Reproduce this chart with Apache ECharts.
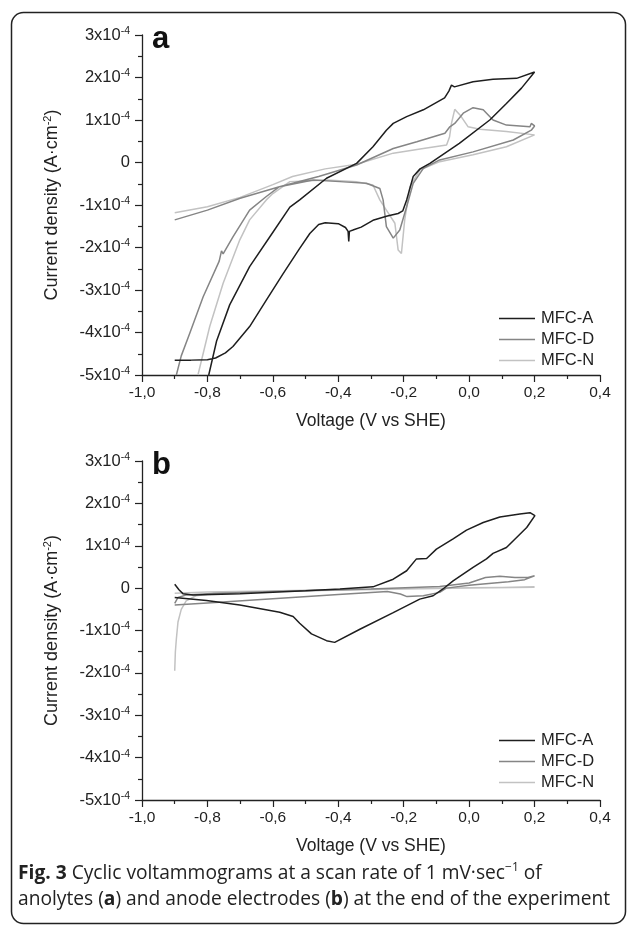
<!DOCTYPE html>
<html>
<head>
<meta charset="utf-8">
<script src="https://cdn.jsdelivr.net/npm/echarts@6/dist/echarts.min.js"></script>
<style>
html,body{margin:0;padding:0;background:#fff;}
#chart{width:637px;height:929px;}
</style>
</head>
<body>
<div id="chart"></div>
<script>
// values in units of 1e-4 A·cm^-2, voltage in V vs SHE
const seriesNames = ['MFC-A', 'MFC-D', 'MFC-N'];
const seriesColors = ['#1e1e1e', '#858585', '#c2c2c2'];
const yTicks = [-5, -4, -3, -2, -1, 0, 1, 2, 3];
const xTicks = [-1.0, -0.8, -0.6, -0.4, -0.2, 0.0, 0.2, 0.4];

const aMFCA = [[-0.90,-4.65],[-0.85,-4.65],[-0.80,-4.64],[-0.775,-4.6],[-0.745,-4.48],[-0.722,-4.33],[-0.671,-3.86],[-0.62,-3.24],[-0.569,-2.62],[-0.518,-2.02],[-0.487,-1.67],[-0.46,-1.46],[-0.44,-1.42],[-0.40,-1.44],[-0.378,-1.53],[-0.37,-1.62],[-0.368,-1.86],[-0.366,-1.62],[-0.355,-1.59],[-0.33,-1.52],[-0.294,-1.36],[-0.25,-1.26],[-0.217,-1.2],[-0.203,-1.14],[-0.191,-0.88],[-0.171,-0.33],[-0.15,-0.15],[-0.12,-0.02],[-0.03,0.45],[0.063,1.0],[0.114,1.39],[0.16,1.75],[0.2,2.13],[0.145,1.98],[0.073,1.96],[0.012,1.9],[-0.045,1.78],[-0.054,1.82],[-0.062,1.68],[-0.075,1.52],[-0.14,1.24],[-0.191,1.08],[-0.232,0.92],[-0.253,0.76],[-0.294,0.37],[-0.344,-0.02],[-0.436,-0.37],[-0.518,-0.88],[-0.548,-1.05],[-0.605,-1.7],[-0.671,-2.45],[-0.732,-3.35],[-0.772,-4.2],[-0.796,-5.0]];
const aMFCD = [[-0.90,-1.35],[-0.80,-1.12],[-0.70,-0.84],[-0.58,-0.57],[-0.46,-0.33],[-0.344,-0.06],[-0.232,0.33],[-0.16,0.49],[-0.074,0.69],[-0.059,0.84],[-0.044,0.92],[-0.018,1.16],[0.012,1.29],[0.043,1.24],[0.073,1.0],[0.114,0.88],[0.186,0.84],[0.19,0.92],[0.2,0.86],[0.19,0.76],[0.135,0.53],[0.012,0.25],[-0.09,0.06],[-0.14,-0.14],[-0.171,-0.49],[-0.191,-1.04],[-0.212,-1.59],[-0.232,-1.78],[-0.253,-1.51],[-0.263,-0.88],[-0.273,-0.61],[-0.314,-0.49],[-0.395,-0.45],[-0.477,-0.41],[-0.58,-0.57],[-0.62,-0.8],[-0.671,-1.12],[-0.722,-1.75],[-0.752,-2.15],[-0.757,-2.08],[-0.764,-2.32],[-0.813,-3.16],[-0.854,-4.02],[-0.88,-4.55],[-0.895,-5.0]];
const aMFCN = [[-0.90,-1.18],[-0.80,-1.04],[-0.70,-0.82],[-0.60,-0.52],[-0.54,-0.33],[-0.44,-0.15],[-0.344,-0.04],[-0.232,0.22],[-0.14,0.33],[-0.069,0.41],[-0.06,0.6],[-0.054,0.92],[-0.044,1.25],[-0.028,1.12],[-0.003,0.84],[0.033,0.78],[0.114,0.73],[0.2,0.65],[0.114,0.37],[0.012,0.18],[-0.09,0.02],[-0.151,-0.18],[-0.181,-0.57],[-0.197,-1.35],[-0.207,-2.14],[-0.217,-2.06],[-0.227,-1.43],[-0.253,-1.12],[-0.273,-0.88],[-0.294,-0.53],[-0.344,-0.45],[-0.436,-0.41],[-0.548,-0.45],[-0.6,-0.73],[-0.62,-0.88],[-0.671,-1.35],[-0.701,-1.82],[-0.752,-2.84],[-0.793,-3.86],[-0.829,-5.0]];

const bMFCA = [[-0.90,0.09],[-0.887,-0.04],[-0.875,-0.13],[-0.844,-0.16],[-0.70,-0.13],[-0.50,-0.06],[-0.395,-0.02],[-0.294,0.03],[-0.232,0.21],[-0.191,0.41],[-0.161,0.69],[-0.13,0.70],[-0.10,0.92],[-0.049,1.16],[-0.008,1.37],[0.043,1.55],[0.094,1.68],[0.155,1.75],[0.186,1.78],[0.201,1.71],[0.176,1.43],[0.114,0.96],[0.073,0.82],[0.053,0.69],[0.012,0.49],[-0.049,0.17],[-0.08,-0.02],[-0.11,-0.18],[-0.151,-0.26],[-0.232,-0.58],[-0.334,-0.97],[-0.411,-1.28],[-0.436,-1.24],[-0.482,-1.08],[-0.518,-0.83],[-0.538,-0.67],[-0.579,-0.57],[-0.701,-0.40],[-0.803,-0.29],[-0.90,-0.22]];
const bMFCD = [[-0.90,-0.40],[-0.80,-0.35],[-0.60,-0.25],[-0.40,-0.15],[-0.25,-0.08],[-0.21,-0.14],[-0.19,-0.20],[-0.14,-0.18],[-0.09,-0.10],[-0.07,0.0],[0.0,0.07],[0.06,0.11],[0.12,0.15],[0.17,0.2],[0.20,0.29],[0.18,0.25],[0.14,0.25],[0.094,0.28],[0.05,0.25],[0.0,0.12],[-0.09,0.04],[-0.30,-0.02],[-0.60,-0.08],[-0.80,-0.13],[-0.864,-0.16],[-0.89,-0.22],[-0.90,-0.36]];
const bMFCN = [[-0.90,-1.95],[-0.898,-1.5],[-0.895,-1.2],[-0.89,-0.8],[-0.88,-0.5],[-0.865,-0.3],[-0.835,-0.18],[-0.75,-0.10],[-0.50,-0.06],[-0.20,-0.02],[0.0,0.0],[0.20,0.02],[0.0,0.01],[-0.40,-0.04],[-0.80,-0.09],[-0.90,-0.12]];

const panelA = [aMFCA, aMFCD, aMFCN];
const panelB = [bMFCA, bMFCD, bMFCN];

const FONT = 'Liberation Sans';
const axisColor = '#222';

function yLabel(v) {
  if (Math.abs(v) < 1e-9) return '{m|0}';
  return '{m|' + v + 'x10}{s|-4}';
}
function xLabel(v) {
  return v.toFixed(1).replace('.', ',');
}
const labelRich = {
  m: { fontSize: 16.5, fontFamily: FONT, color: '#222', lineHeight: 19 },
  s: { fontSize: 10.5, fontFamily: FONT, color: '#222', verticalAlign: 'top', lineHeight: 10 }
};

function makeX(gridIndex) {
  return {
    type: 'value', gridIndex: gridIndex,
    min: xTicks[0], max: xTicks[xTicks.length - 1], interval: 0.2,
    name: 'Voltage (V vs SHE)', nameLocation: 'middle', nameGap: 37,
    nameTextStyle: { fontSize: 17.5, fontFamily: FONT, color: '#222' },
    axisLine: { show: true, onZero: false, lineStyle: { color: axisColor, width: 1.3 } },
    axisTick: { show: true, inside: false, length: 7, lineStyle: { color: axisColor, width: 1.2 } },
    minorTick: { show: true, splitNumber: 2, length: 4, lineStyle: { color: axisColor, width: 1.2 } },
    splitLine: { show: false },
    axisLabel: { margin: 10, fontSize: 15.5, fontFamily: FONT, color: '#222', formatter: xLabel }
  };
}
function makeY(gridIndex) {
  return {
    type: 'value', gridIndex: gridIndex,
    min: yTicks[0], max: yTicks[yTicks.length - 1], interval: 1,
    name: '{t|Current density (A·cm}{s|-2}{t|)}', nameLocation: 'middle', nameGap: 80, nameRotate: 90,
    nameTextStyle: {
      rich: {
        t: { fontSize: 18, fontFamily: FONT, color: '#222', lineHeight: 20 },
        s: { fontSize: 11, fontFamily: FONT, color: '#222', verticalAlign: 'top', lineHeight: 11 }
      }
    },
    axisLine: { show: true, onZero: false, lineStyle: { color: axisColor, width: 1.3 } },
    axisTick: { show: true, inside: false, length: 7, lineStyle: { color: axisColor, width: 1.2 } },
    minorTick: { show: true, splitNumber: 2, length: 4, lineStyle: { color: axisColor, width: 1.2 } },
    splitLine: { show: false },
    axisLabel: { margin: 12, formatter: yLabel, rich: labelRich }
  };
}

const series = [];
[panelA, panelB].forEach(function (panel, gi) {
  panel.forEach(function (data, si) {
    series.push({
      name: seriesNames[si], type: 'line', xAxisIndex: gi, yAxisIndex: gi,
      data: data, symbol: 'none', showSymbol: false, clip: true, smooth: false,
      z: 10 - si,
      lineStyle: { color: seriesColors[si], width: 1.5 },
      itemStyle: { color: seriesColors[si] },
      animation: false
    });
  });
});

function makeLegend(top) {
  return {
    orient: 'vertical', left: 499, top: top, padding: 0,
    itemWidth: 36, itemHeight: 14, itemGap: 4,
    icon: 'path://M0 0 L36 0 L36 1.5 L0 1.5 Z',
    data: seriesNames.slice(),
    selectedMode: false,
    textStyle: { fontSize: 16.5, fontFamily: FONT, color: '#222', padding: [0, 0, 0, 1] }
  };
}

const chart = echarts.init(document.getElementById('chart'), null, { renderer: 'canvas' });
chart.setOption({
  animation: false,
  backgroundColor: '#fff',
  grid: [
    { left: 142, top: 35, width: 458, height: 340, containLabel: false },
    { left: 142, top: 461, width: 458, height: 339, containLabel: false }
  ],
  xAxis: [makeX(0), makeX(1)],
  yAxis: [makeY(0), makeY(1)],
  legend: [makeLegend(310), makeLegend(732)],
  series: series,
  graphic: [
    { type: 'rect', shape: { x: 11.5, y: 12.5, width: 614, height: 911, r: 12 },
      style: { fill: 'none', stroke: '#222', lineWidth: 1.5 }, z: 100 },
    { type: 'text', left: 152, top: 24, style: { text: 'a', font: 'bold 31px "Liberation Sans"', fill: '#111' }, z: 100 },
    { type: 'text', left: 152, top: 450, style: { text: 'b', font: 'bold 31px "Liberation Sans"', fill: '#111' }, z: 100 },
    { type: 'text', left: 18, top: 862, z: 100,
      style: {
        text: '{b|Fig. 3} {r|Cyclic voltammograms at a scan rate of 1 mV·sec}{s|−1}{r| of}',
        rich: {
          b: { fontFamily: 'Open Sans', fontWeight: 'bold', fontSize: 19.2, fill: '#222', lineHeight: 24 },
          r: { fontFamily: 'Open Sans', fontSize: 19.2, fill: '#222', lineHeight: 24 },
          s: { fontFamily: 'Open Sans', fontSize: 12, fill: '#222', verticalAlign: 'top', lineHeight: 12 }
        },
        font: '19.2px "Open Sans"', fill: '#222'
      } },
    { type: 'text', left: 18, top: 890, z: 100,
      style: {
        text: '{r|anolytes (}{b|a}{r|) and anode electrodes (}{b|b}{r|) at the end of the experiment}',
        rich: {
          b: { fontFamily: 'Open Sans', fontWeight: 'bold', fontSize: 19.2, fill: '#222', lineHeight: 24 },
          r: { fontFamily: 'Open Sans', fontSize: 19.2, fill: '#222', lineHeight: 24 }
        },
        font: '19.2px "Open Sans"', fill: '#222'
      } }
  ]
});
</script>
</body>
</html>
